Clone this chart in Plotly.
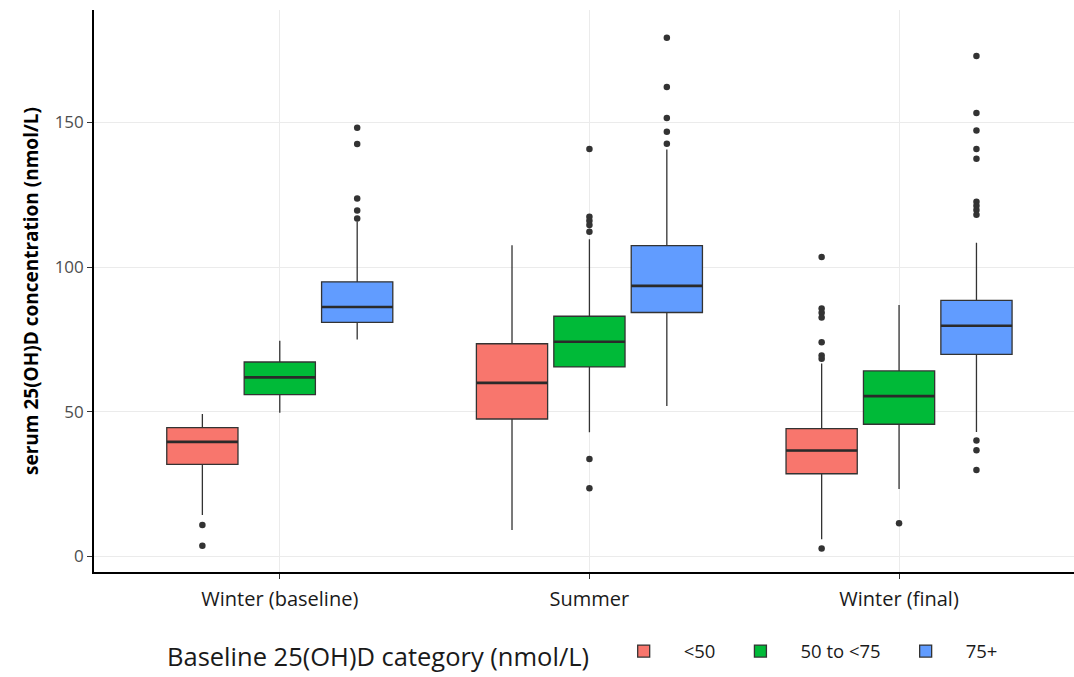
import plotly.graph_objects as go

categories = ["Winter (baseline)", "Summer", "Winter (final)"]
groups = ["<50", "50 to <75", "75+"]
colors = ["#F8766D", "#00BA38", "#619CFF"]

# Box statistics per group (one value per category)
q1_lt50 = [31.8, 47.5, 28.6]
med_lt50 = [39.6, 60.0, 36.6]
q3_lt50 = [44.5, 73.5, 44.2]
lo_lt50 = [14.3, 9.2, 6.0]
hi_lt50 = [49.2, 107.5, 66.7]

q1_50_75 = [55.9, 65.5, 45.7]
med_50_75 = [61.9, 74.2, 55.4]
q3_50_75 = [67.2, 83.0, 64.1]
lo_50_75 = [49.7, 42.9, 23.3]
hi_50_75 = [74.5, 109.6, 86.9]

q1_75p = [80.9, 84.3, 69.8]
med_75p = [86.2, 93.5, 79.7]
q3_75p = [94.9, 107.4, 88.5]
lo_75p = [75.0, 52.0, 43.0]
hi_75p = [115.7, 140.6, 108.4]

# Outliers per group and category
out_lt50 = {
    "Winter (baseline)": [10.9, 3.7],
    "Summer": [],
    "Winter (final)": [103.5, 85.7, 84.2, 82.6, 74.0, 69.4, 68.3, 2.8],
}
out_50_75 = {
    "Winter (baseline)": [],
    "Summer": [140.8, 117.4, 116.0, 114.5, 112.2, 33.7, 23.6],
    "Winter (final)": [11.5],
}
out_75p = {
    "Winter (baseline)": [148.1, 142.5, 123.7, 119.5, 116.8],
    "Summer": [179.2, 162.2, 151.5, 146.7, 142.6],
    "Winter (final)": [172.9, 153.2, 147.2, 140.8, 137.4, 122.6, 121.2, 119.7, 118.1,
                       40.1, 36.7, 29.9],
}

stats = [
    (q1_lt50, med_lt50, q3_lt50, lo_lt50, hi_lt50, out_lt50),
    (q1_50_75, med_50_75, q3_50_75, lo_50_75, hi_50_75, out_50_75),
    (q1_75p, med_75p, q3_75p, lo_75p, hi_75p, out_75p),
]

FONT = "Open Sans"
fig = go.Figure()

for name, col, (q1, med, q3, lo, hi, outs) in zip(groups, colors, stats):
    fig.add_trace(go.Box(
        name=name, x=categories, q1=q1, median=med, q3=q3,
        lowerfence=lo, upperfence=hi,
        fillcolor=col, line=dict(color="#333333", width=1.3),
        whiskerwidth=0, offsetgroup=name, boxpoints=False,
        hoverinfo="skip",
    ))
    # thicker median line (ggplot style), drawn from the same median values
    fig.add_trace(go.Box(
        name=name, x=categories, q1=med, median=med, q3=med,
        lowerfence=med, upperfence=med,
        fillcolor="rgba(0,0,0,0)", line=dict(color="#2a2a2a", width=2.6),
        whiskerwidth=0, offsetgroup=name, boxpoints=False,
        showlegend=False, hoverinfo="skip",
    ))
    ox, oy = [], []
    for c in categories:
        for v in outs[c]:
            ox.append(c)
            oy.append(v)
    fig.add_trace(go.Scatter(
        x=ox, y=oy, mode="markers", offsetgroup=name, showlegend=False,
        marker=dict(color="#333333", size=6.5), hoverinfo="skip",
    ))

fig.update_layout(
    width=1074, height=677,
    margin=dict(l=94, r=0, t=10, b=105),
    plot_bgcolor="white", paper_bgcolor="white",
    boxmode="group", boxgap=0.25, boxgroupgap=0.08,
    scattermode="group", scattergap=0.25,
    font=dict(family=FONT, color="#333333"),
    legend=dict(
        orientation="h", x=0.5, xanchor="center", y=-0.186, yanchor="bottom",
        title=dict(text="Baseline 25(OH)D category (nmol/L) ", side="left",
                   font=dict(size=25.5, color="#1a1a1a")),
        font=dict(size=18.5, color="#1a1a1a"),
        itemwidth=70,
    ),
)

fig.update_xaxes(
    type="category", range=[-0.6, 2.565],
    showgrid=True, gridcolor="#ebebeb", gridwidth=1,
    showline=True, linecolor="black", linewidth=1.6,
    ticks="outside", ticklen=5, tickcolor="#333333", tickwidth=1.2,
    tickfont=dict(size=20, color="#1a1a1a", family=FONT),
    ticklabelstandoff=3,
    zeroline=False,
)
fig.update_yaxes(
    range=[-5.35, 188.8], tickvals=[0, 50, 100, 150],
    showgrid=True, gridcolor="#ebebeb", gridwidth=1,
    showline=True, linecolor="black", linewidth=1.6,
    ticks="outside", ticklen=5, tickcolor="#333333", tickwidth=1.2,
    tickfont=dict(size=17, color="#4d4d4d", family=FONT),
    zeroline=False,
    title=dict(text="<b>serum 25(OH)D concentration (nmol/L)</b>",
               font=dict(size=19, color="black", family=FONT), standoff=11),
)

fig.write_html("out.html")
